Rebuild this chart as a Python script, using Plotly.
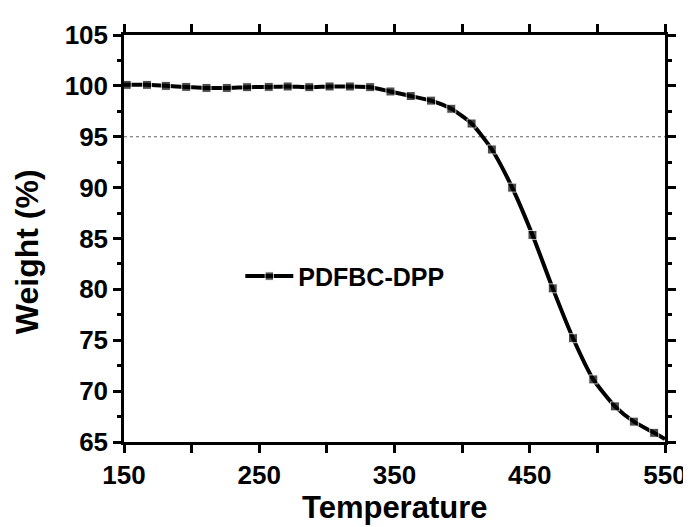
import plotly.graph_objects as go

# Data
temperature = [150, 152, 167, 181, 196, 211, 226, 241, 257, 271, 287, 302, 317, 332,
               347, 362, 377, 392, 407, 422, 437, 452, 467, 482, 497, 513, 527, 542, 550]
weight = [100.1, 100.1, 100.1, 100.0, 99.9, 99.8, 99.8, 99.87, 99.9, 99.94, 99.87, 99.94, 99.94, 99.87,
          99.45, 99.0, 98.55, 97.75, 96.3, 93.75, 90.0, 85.35, 80.1, 75.2, 71.15, 68.5, 67.0, 65.9, 65.3]
marker_sizes = [0] + [9] * (len(temperature) - 2) + [0]
series_name = "PDFBC-DPP"
threshold = 95

x_tickvals = [150, 200, 250, 300, 350, 400, 450, 500, 550]
x_ticktext = ["150", "", "250", "", "350", "", "450", "", "550"]
y_tickvals = [65, 70, 75, 80, 85, 90, 95, 100, 105]

FONT = "Liberation Sans, Arial, sans-serif"

fig = go.Figure()
fig.add_trace(go.Scatter(
    x=temperature, y=weight, name=series_name,
    mode="lines+markers",
    line=dict(color="black", width=4, shape="spline", smoothing=0.6),
    marker=dict(symbol="square", size=marker_sizes, color="black"),
))

fig.add_shape(type="line", xref="x", yref="y", x0=150, x1=550, y0=threshold, y1=threshold,
              line=dict(color="#666666", width=1.2, dash="3px,3px"), layer="below")

axis_common = dict(
    showline=True, linecolor="black", linewidth=2.5, mirror="ticks",
    ticks="outside", ticklen=8, tickwidth=2.5, tickcolor="black",
    showgrid=False, zeroline=False,
    tickfont=dict(family=FONT, size=26, color="black", weight="bold"),
)

fig.update_xaxes(range=[150, 550], tickmode="array", tickvals=x_tickvals, ticktext=x_ticktext,
                 **axis_common)
fig.update_yaxes(range=[65, 105], tickmode="array", tickvals=y_tickvals,
                 minor=dict(dtick=2.5, ticklen=4, tickwidth=2.5, tickcolor="black", ticks="outside", showgrid=False),
                 **axis_common)

fig.add_annotation(text="Temperature", xref="paper", yref="paper", x=0.5, y=-0.162,
                   showarrow=False, xanchor="center", yanchor="middle",
                   font=dict(family=FONT, size=31, color="black", weight="bold"))
fig.add_annotation(text="Weight (%)", xref="paper", yref="paper", x=-0.18, y=0.468,
                   showarrow=False, xanchor="center", yanchor="middle", textangle=-90,
                   font=dict(family=FONT, size=32, color="black", weight="bold"))

fig.update_layout(
    width=691, height=527,
    margin=dict(l=116, r=25, t=26, b=93),
    paper_bgcolor="white", plot_bgcolor="white",
    showlegend=True,
    legend=dict(x=0.215, y=0.407, xanchor="left", yanchor="middle",
                bgcolor="rgba(0,0,0,0)", itemwidth=48,
                font=dict(family=FONT, size=25, color="black", weight="bold")),
)

fig.write_html("out.html")
